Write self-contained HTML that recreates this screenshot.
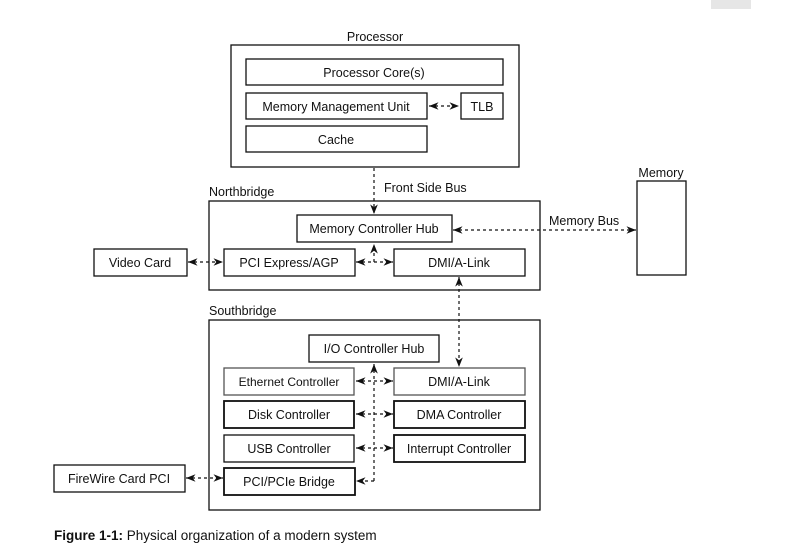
<!DOCTYPE html>
<html><head><meta charset="utf-8"><style>
html,body{margin:0;padding:0;background:#fff;}
svg text{font-family:"Liberation Sans",sans-serif;font-size:12.5px;fill:#111;}
</style></head><body>
<svg width="801" height="547" viewBox="0 0 801 547" xmlns="http://www.w3.org/2000/svg">
<defs>
<marker id="a" viewBox="0 0 10 10" refX="10" refY="5" markerWidth="8" markerHeight="8" orient="auto-start-reverse"><path d="M0,1 L10,5 L0,9 L3,5 z" fill="#111"/></marker>
</defs>
<rect x="711" y="0" width="40" height="9" fill="#e6e6e6"/>
<g fill="none" stroke="#111" stroke-width="1.3">
<rect x="231" y="45" width="288" height="122"/>
<rect x="246" y="59" width="257" height="26"/>
<rect x="246" y="93" width="181" height="26"/>
<rect x="461" y="93" width="42" height="26"/>
<rect x="246" y="126" width="181" height="26"/>
<rect x="209" y="201" width="331" height="89"/>
<rect x="297" y="215" width="155" height="27"/>
<rect x="224" y="249" width="131" height="27"/>
<rect x="394" y="249" width="131" height="27"/>
<rect x="637" y="181" width="49" height="94"/>
<rect x="94" y="249" width="93" height="27"/>
<rect x="209" y="320" width="331" height="190"/>
<rect x="309" y="335" width="130" height="27"/>
<rect x="224" y="368" width="130" height="27" stroke="#555"/>
<rect x="394" y="368" width="131" height="27" stroke="#555"/>
<rect x="224" y="401" width="130" height="27" stroke-width="1.8"/>
<rect x="394" y="401" width="131" height="27" stroke-width="1.8"/>
<rect x="224" y="435" width="130" height="27"/>
<rect x="394" y="435" width="131" height="27" stroke-width="1.8"/>
<rect x="224" y="468" width="131" height="27" stroke-width="1.8"/>
<rect x="54" y="465" width="131" height="27"/>
</g>
<g fill="none" stroke="#111" stroke-width="1.2" stroke-dasharray="3,3">
<line x1="429" y1="106" x2="459" y2="106" marker-start="url(#a)" marker-end="url(#a)"/>
<line x1="374" y1="168" x2="374" y2="214" marker-end="url(#a)"/>
<line x1="453" y1="230" x2="636" y2="230" marker-start="url(#a)" marker-end="url(#a)"/>
<line x1="356" y1="262" x2="393" y2="262" marker-start="url(#a)" marker-end="url(#a)"/>
<line x1="374" y1="262" x2="374" y2="244" marker-end="url(#a)"/>
<line x1="188" y1="262" x2="223" y2="262" marker-start="url(#a)" marker-end="url(#a)"/>
<line x1="459" y1="277" x2="459" y2="367" marker-start="url(#a)" marker-end="url(#a)"/>
<line x1="374" y1="481" x2="374" y2="364" marker-end="url(#a)"/>
<line x1="374" y1="481" x2="356" y2="481" marker-end="url(#a)"/>
<line x1="356" y1="381" x2="393" y2="381" marker-start="url(#a)" marker-end="url(#a)"/>
<line x1="356" y1="414" x2="393" y2="414" marker-start="url(#a)" marker-end="url(#a)"/>
<line x1="356" y1="448" x2="393" y2="448" marker-start="url(#a)" marker-end="url(#a)"/>
<line x1="186" y1="478" x2="223" y2="478" marker-start="url(#a)" marker-end="url(#a)"/>
</g>
<g text-anchor="middle">
<text x="375" y="41">Processor</text>
<text x="374" y="77">Processor Core(s)</text>
<text x="336" y="111">Memory Management Unit</text>
<text x="482" y="111">TLB</text>
<text x="336" y="144">Cache</text>
<text x="374" y="233">Memory Controller Hub</text>
<text x="289" y="267">PCI Express/AGP</text>
<text x="459" y="267">DMI/A-Link</text>
<text x="140" y="267">Video Card</text>
<text x="661" y="177">Memory</text>
<text x="374" y="353">I/O Controller Hub</text>
<text x="289" y="386" style="font-size:12px">Ethernet Controller</text>
<text x="459" y="386">DMI/A-Link</text>
<text x="289" y="419">Disk Controller</text>
<text x="459" y="419">DMA Controller</text>
<text x="289" y="453">USB Controller</text>
<text x="459" y="453">Interrupt Controller</text>
<text x="289" y="486">PCI/PCIe Bridge</text>
<text x="119" y="483">FireWire Card PCI</text>
</g>
<text x="209" y="196">Northbridge</text>
<text x="384" y="192">Front Side Bus</text>
<text x="549" y="225">Memory Bus</text>
<text x="209" y="315">Southbridge</text>
<text x="54" y="540" style="font-size:13.5px"><tspan font-weight="bold">Figure 1-1:</tspan>  Physical organization of a modern system</text>
</svg>
</body></html>
